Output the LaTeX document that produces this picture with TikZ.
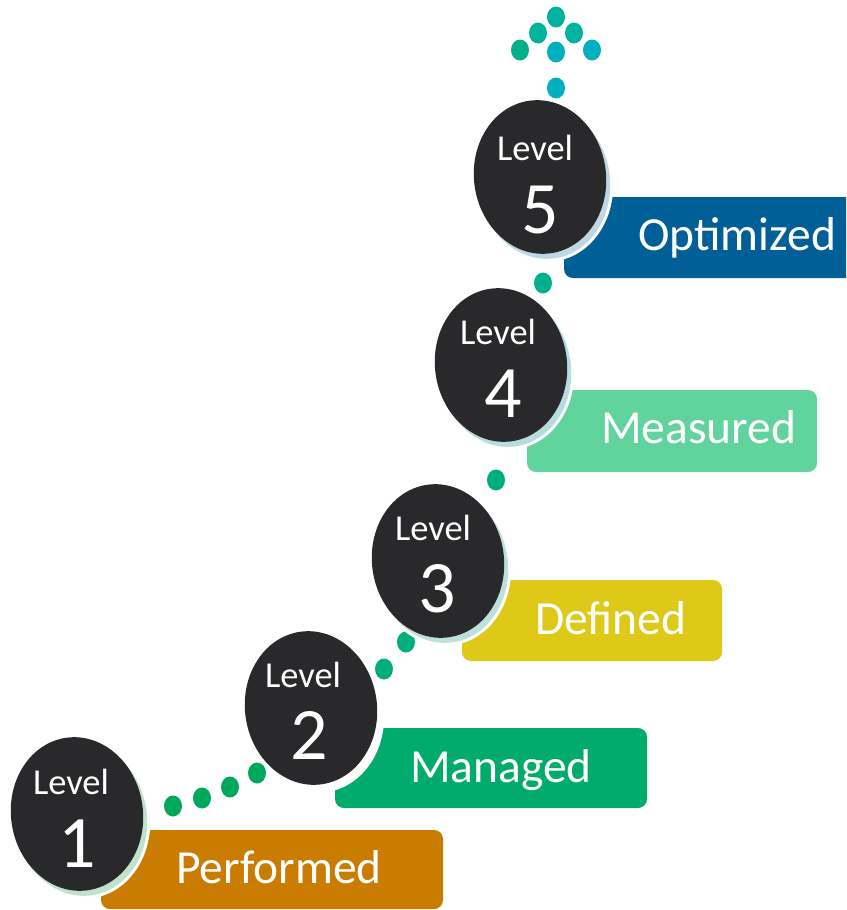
\documentclass[tikz,border=0pt]{standalone}
\usepackage{fontspec}
\setmainfont{Carlito}
\usetikzlibrary{shapes.geometric}
\definecolor{dark}{HTML}{29292B}
\definecolor{cPerf}{HTML}{CA7C00}
\definecolor{cMan}{HTML}{00AB6D}
\definecolor{cDef}{HTML}{DEC818}
\definecolor{cMeas}{HTML}{61D39D}
\definecolor{cOpt}{HTML}{005F96}
\definecolor{dA}{HTML}{00A85C}
\definecolor{dB}{HTML}{00AE7C}
\definecolor{dC}{HTML}{00B08C}
\definecolor{dD}{HTML}{00B39E}
\definecolor{dE}{HTML}{00B0BE}
\definecolor{shG}{HTML}{BFE2CB}
\definecolor{shT}{HTML}{BCE0DA}
\definecolor{shT2}{HTML}{B6DCDC}
\definecolor{shB}{HTML}{BCD8E2}
\tikzset{
  lvlbox/.style={fill=#1, rounded corners=9pt},
  lvltxt/.style={text=white, font=\fontsize{47.5}{47.5}\selectfont, anchor=base west, inner sep=0pt},
  leveltxt/.style={text=white, font=\fontsize{36.5}{36.5}\selectfont, anchor=base, inner sep=0pt},
  digittxt/.style={text=white, font=\fontsize{74}{74}\selectfont, anchor=base, inner sep=0pt},
  dotmark/.style={fill=#1, ellipse, inner sep=0pt, minimum width=18pt, minimum height=21pt},
  blob/.style={ellipse, inner sep=0pt, minimum width=132pt, minimum height=154pt, rotate=8},
}
\newcommand{\levelblob}[4]{%
  % #1 name, #2 x, #3 y, #4 shadow colour
  \node[blob, draw=white, line width=6pt] (#1s) at (#2+4,#3+5) {};
  \node[blob, draw=white, line width=6pt] at (#2,#3) {};
  \node[blob, fill=#4] at (#2+4,#3+5) {};
  \node[blob, fill=dark] (#1) at (#2,#3) {};
}
\begin{document}
\begin{tikzpicture}[x=1pt,y=-1pt]
\clip (0,0) rectangle (846,910);
\fill[white] (0,0) rectangle (846,910);
% boxes
\fill[lvlbox=cPerf] (101,830) rectangle (443,909);
\fill[lvlbox=cMan] (335,728) rectangle (647,808);
\fill[lvlbox=cDef] (462,580) rectangle (722,661);
\fill[lvlbox=cMeas] (527,390) rectangle (817,472);
\fill[lvlbox=cOpt] (564,197) rectangle (870,278);
% dots
\node[dotmark=dA] (d1) at (173,806) {};
\node[dotmark=dA] (d2) at (202,798) {};
\node[dotmark=dA] (d3) at (230,787) {};
\node[dotmark=dA] (d4) at (257,773) {};
\node[dotmark=dB] (d5) at (384,669) {};
\node[dotmark=dB] (d6) at (406,642) {};
\node[dotmark=dB] (d7) at (496,480) {};
\node[dotmark=dC] (d8) at (543,283) {};
\node[dotmark=dE] (d9) at (556,88) {};
\node[dotmark=dD] (a1) at (556,17) {};
\node[dotmark=dD] (a2) at (538,33) {};
\node[dotmark=dD] (a3) at (574,33) {};
\node[dotmark=dC] (a4) at (520,50) {};
\node[dotmark=dE] (a5) at (556,52) {};
\node[dotmark=dE] (a6) at (592,50) {};
% ellipses
\levelblob{e1}{77}{814}{shG}
\levelblob{e2}{311}{708}{white}
\levelblob{e3}{438}{561}{shT}
\levelblob{e4}{501}{365}{shT2}
\levelblob{e5}{540}{177}{shB}
% ellipse texts
\node[leveltxt] (l1) at (71,794) {Level};
\node[digittxt] (n1) at (77,867) {1};
\node[leveltxt] (l2) at (303,687) {Level};
\node[digittxt] (n2) at (309,759) {2};
\node[leveltxt] (l3) at (433,540) {Level};
\node[digittxt] (n3) at (437,612) {3};
\node[leveltxt] (l4) at (498,344) {Level};
\node[digittxt] (n4) at (503,417) {4};
\node[leveltxt] (l5) at (535,160) {Level};
\node[digittxt] (n5) at (540,233) {5};
% box texts
\node[lvltxt] (t1) at (176,883) {Performed};
\node[lvltxt] (t2) at (410,782) {Managed};
\node[lvltxt] (t3) at (535,634) {Defined};
\node[lvltxt] (t4) at (601,443) {Measured};
\node[lvltxt] (t5) at (638,250) {Optimized};
\end{tikzpicture}
\end{document}
